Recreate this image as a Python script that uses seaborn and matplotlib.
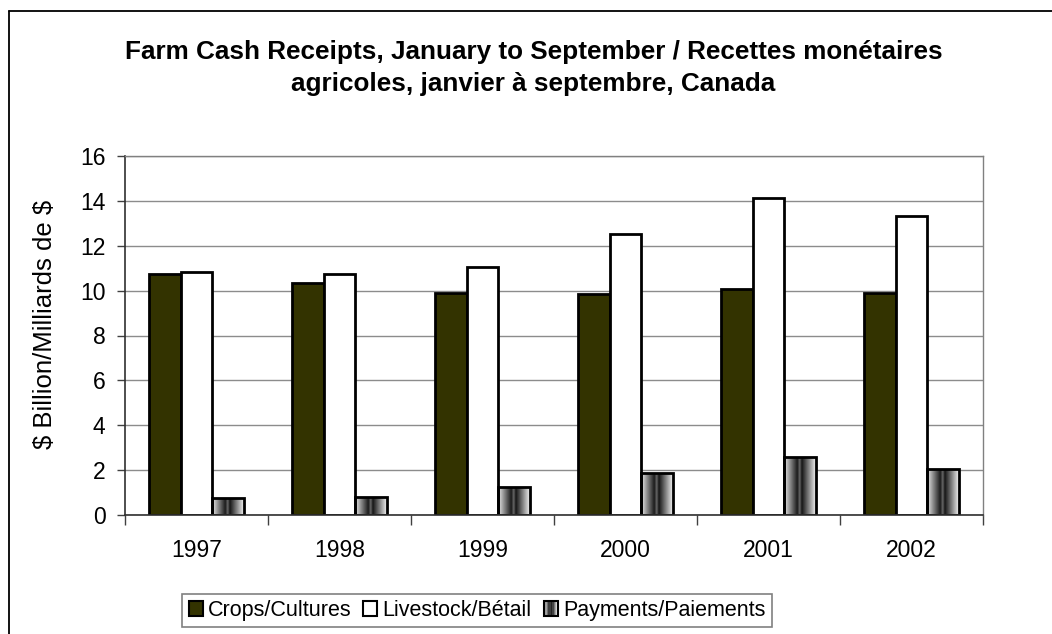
import numpy as np
import pandas as pd
import matplotlib
matplotlib.use("Agg")
import matplotlib.pyplot as plt
import seaborn as sns
from matplotlib.patches import Rectangle
from matplotlib.legend_handler import HandlerBase
from matplotlib.colors import LinearSegmentedColormap

years = ["1997", "1998", "1999", "2000", "2001", "2002"]
series = ["Crops/Cultures", "Livestock/Bétail", "Payments/Paiements"]
crops = [10.73, 10.36, 9.91, 9.85, 10.06, 9.90]
livestock = [10.82, 10.76, 11.06, 12.54, 14.15, 13.33]
payments = [0.74, 0.80, 1.25, 1.89, 2.60, 2.07]

title = ("Farm Cash Receipts, January to September / Recettes monétaires\n"
         "agricoles, janvier à septembre, Canada")
ylabel = r"\$ Billion/Milliards de \$"

df = pd.DataFrame({
    "year": years * 3,
    "series": [series[0]] * 6 + [series[1]] * 6 + [series[2]] * 6,
    "value": crops + livestock + payments,
})

sns.set_theme(style="white")
plt.rcParams["font.family"] = ["Liberation Sans", "DejaVu Sans"]
plt.rcParams["text.color"] = "black"
plt.rcParams["axes.labelcolor"] = "black"
plt.rcParams["xtick.color"] = "black"
plt.rcParams["ytick.color"] = "black"

W, H = 1052, 634
fig = plt.figure(figsize=(W / 100, H / 100), dpi=100)
ax = fig.add_axes([125 / W, 1 - 515 / H, 858 / W, 359 / H])

palette = {series[0]: "#333300", series[1]: "#ffffff", series[2]: "#aaaaaa"}
sns.barplot(data=df, x="year", y="value", hue="series", order=years,
            hue_order=series, palette=palette, width=0.67, gap=0,
            edgecolor="black", linewidth=2.0, saturation=1, ax=ax,
            legend=False, err_kws={"linewidth": 0})

ax.set_ylim(0, 16)
ax.set_xlim(-0.5, len(years) - 0.5)
ax.set_yticks(np.arange(0, 17, 2))
ax.tick_params(axis="y", labelsize=16.5, length=6, width=1, color="#404040",
               labelcolor="black", direction="out", pad=8, left=True)
ax.set_xticks(np.arange(len(years)))
ax.set_xticklabels(years)
ax.set_xticks(np.arange(-0.5, len(years), 1), minor=True)
ax.tick_params(axis="x", which="major", labelsize=16.5, length=0, pad=17,
               labelcolor="black")
ax.tick_params(axis="x", which="minor", length=7, width=1, color="#404040",
               direction="out", bottom=True)
ax.set_xlabel("")
ax.set_ylabel(ylabel, fontsize=18.5, color="black")
ax.yaxis.set_label_coords(-0.079, 0.53)

ax.grid(axis="y", color="#8c8c8c", linewidth=1)
ax.grid(axis="x", visible=False)
ax.set_axisbelow(True)
for s in ["top", "right"]:
    ax.spines[s].set_color("#808080")
    ax.spines[s].set_linewidth(1)
for s in ["left", "bottom"]:
    ax.spines[s].set_color("#303030")
    ax.spines[s].set_linewidth(1.2)

# gradient fill for payments bars
grad_cmap = LinearSegmentedColormap.from_list(
    "pay", [(0.0, "#ececec"), (0.42, "#1a1a1a"), (0.49, "#6a6a6a"),
            (0.56, "#151515"), (1.0, "#f2f2f2")])
grad = np.linspace(0, 1, 256).reshape(1, -1)
pay_container = ax.containers[2]
for bar in pay_container.patches:
    bar.set_facecolor("none")
    x0, y0 = bar.get_x(), bar.get_y()
    w, h = bar.get_width(), bar.get_height()
    im = ax.imshow(grad, cmap=grad_cmap, extent=[x0, x0 + w, y0, y0 + h],
                   aspect="auto", zorder=bar.get_zorder() - 0.1,
                   interpolation="bilinear")
    im.set_clip_path(bar)
ax.set_xlim(-0.5, len(years) - 0.5)
ax.set_ylim(0, 16)
ax.set_aspect("auto")


class GradientHandler(HandlerBase):
    def create_artists(self, legend, orig_handle, xdescent, ydescent,
                       width, height, fontsize, trans):
        arts = []
        n = 10
        for i in range(n):
            c = grad_cmap((i + 0.5) / n)
            arts.append(Rectangle((-xdescent + width * i / n, -ydescent),
                                  width / n, height, facecolor=c,
                                  edgecolor="none", transform=trans))
        arts.append(Rectangle((-xdescent, -ydescent), width, height,
                              facecolor="none", edgecolor="black",
                              linewidth=1.5, transform=trans))
        return arts


handles = [Rectangle((0, 0), 1, 1, facecolor=palette[series[0]],
                     edgecolor="black", linewidth=1.5),
           Rectangle((0, 0), 1, 1, facecolor="white", edgecolor="black",
                     linewidth=1.5),
           Rectangle((0, 0), 1, 1, facecolor="#888888", edgecolor="black")]
leg = fig.legend(handles, series, loc="center",
                 bbox_to_anchor=(477 / W, 1 - 610.5 / H), ncol=3,
                 fontsize=15.5, frameon=True, fancybox=False, framealpha=1,
                 edgecolor="#808080", handlelength=0.65, handleheight=0.65,
                 handletextpad=0.25, columnspacing=0.55, borderpad=0.3,
                 handler_map={handles[2]: GradientHandler()})
leg.get_frame().set_linewidth(1.2)
for t in leg.get_texts():
    t.set_color("black")

fig.text(0.507, 1 - 68 / H, title, ha="center", va="center", color="black",
         fontsize=18.8, fontweight="bold", linespacing=1.42)

# outer chart border (top and left edges visible)
fig.add_artist(plt.Line2D([8.5 / W, 1.0], [1 - 10.5 / H, 1 - 10.5 / H],
                          transform=fig.transFigure, color="black", lw=1.3))
fig.add_artist(plt.Line2D([8.5 / W, 8.5 / W], [0, 1 - 10.5 / H],
                          transform=fig.transFigure, color="black", lw=1.3))

fig.savefig("out.png", dpi=100)
